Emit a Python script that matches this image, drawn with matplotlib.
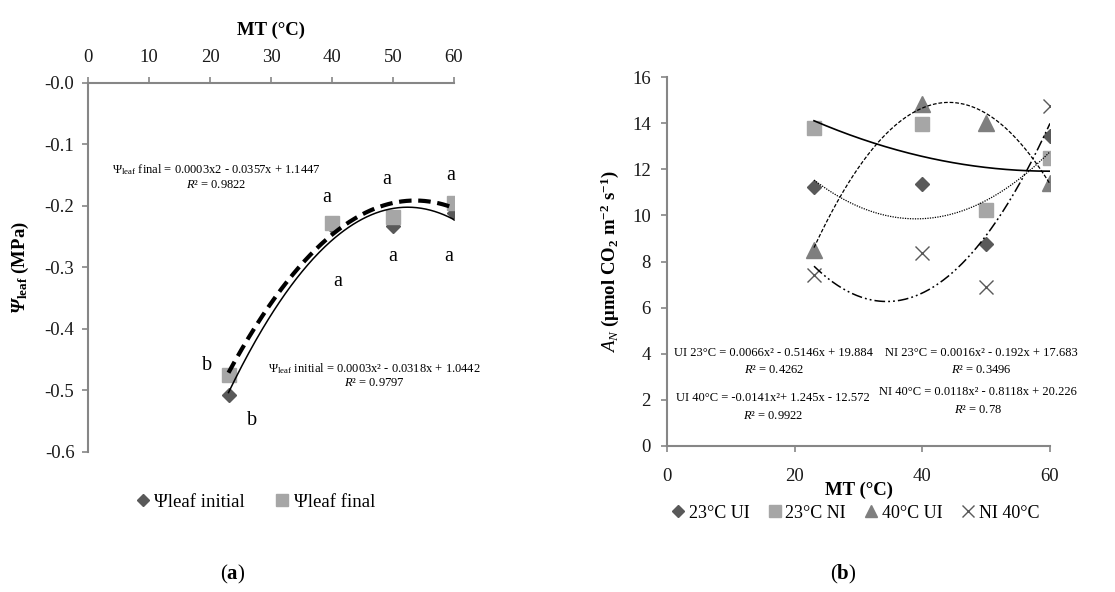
import numpy as np
import matplotlib
matplotlib.use("Agg")
import matplotlib.pyplot as plt
from matplotlib.lines import Line2D

plt.rcParams['font.family'] = ['Liberation Serif', 'DejaVu Serif']
plt.rcParams['mathtext.fontset'] = 'custom'
plt.rcParams['mathtext.rm'] = 'Liberation Serif'
plt.rcParams['mathtext.it'] = 'Liberation Serif:italic'
plt.rcParams['mathtext.bf'] = 'Liberation Serif:bold'
plt.rcParams['mathtext.bfit'] = 'Liberation Serif:italic:bold'

# ---- panel (a) data ----
mt = [23, 40, 50, 60]
psi_initial = [-0.508, -0.233, -0.233, -0.212]
psi_final = [-0.475, -0.228, -0.219, -0.195]
# significance letters (x, y, letter)
letters_final = [(19.4, -0.46, 'b'), (39.1, -0.186, 'a'), (49.0, -0.157, 'a'), (59.4, -0.150, 'a')]
letters_initial = [(26.8, -0.549, 'b'), (40.9, -0.323, 'a'), (50.0, -0.283, 'a'), (59.1, -0.283, 'a')]

# ---- panel (b) data ----
ui_23 = [11.22, 11.35, 8.76, 13.45]
ni_23 = [13.81, 13.96, 10.23, 12.51]
ui_40 = [8.5, 14.84, 14.0, 11.4]
ni_40 = [7.41, 8.35, 6.88, 14.75]
# trendline coefficients as printed on the chart
coef_ui_23 = [0.0066, -0.5146, 19.884]
coef_ni_23 = [0.0016, -0.192, 17.683]
coef_ui_40 = [-0.0141, 1.245, -12.572]
coef_ni_40 = [0.0118, -0.8118, 20.226]

DARK = '#595959'
LIGHT = '#A6A6A6'
MID = '#7F7F7F'
AXC = '#868686'

fig = plt.figure(figsize=(11.15, 5.92), dpi=100)

# ================= panel (a) =================
ax1 = fig.add_axes([0.0792, 0.2365, 0.328, 0.6238])
xs = np.linspace(23, 60, 200)
fit_i = np.polyfit(mt, psi_initial, 2)
fit_f = np.polyfit(mt, psi_final, 2)
ax1.plot(mt, psi_initial, 'D', color=DARK, ms=7, zorder=3)
ax1.plot(mt, psi_final, 's', color=LIGHT, ms=10, zorder=3)
ax1.plot(xs, np.polyval(fit_i, xs), color='black', lw=1.1, zorder=4)
ax1.plot(xs, np.polyval(fit_f, xs), color='black', lw=3, dashes=(3, 1.6), zorder=4)

ax1.set_xlim(0, 60)
ax1.set_ylim(-0.6, 0)
ax1.set_xticks(range(0, 61, 10))
ax1.set_yticks([0, -0.1, -0.2, -0.3, -0.4, -0.5, -0.6])
ax1.set_yticklabels(['-0.0', '-0.1', '-0.2', '-0.3', '-0.4', '-0.5', '-0.6'])
ax1.xaxis.tick_top()
ax1.xaxis.set_label_position('top')
for s in ['right', 'bottom']:
    ax1.spines[s].set_visible(False)
for s in ['top', 'left']:
    ax1.spines[s].set_color(AXC)
    ax1.spines[s].set_linewidth(1.5)
ax1.tick_params(colors=AXC, labelcolor='#1a1a1a', labelsize=13.5, length=4, width=1.2, direction='out')
ax1.tick_params(axis='x', pad=8)
ax1.tick_params(axis='y', pad=6)
ax1.set_xlabel('MT (°C)', fontsize=13.5, fontweight='bold', labelpad=10)
ax1.set_ylabel(r'$\mathbfit{\Psi}_{\mathbf{leaf}}$ (MPa)', fontsize=13.5, fontweight='bold', labelpad=10)

for x, y, t in letters_final + letters_initial:
    ax1.text(x, y, t, fontsize=14.5, ha='center', va='center')

ax1.text(21, -0.152, r'$\mathit{\Psi}_{\rm leaf}$ final = 0.0003x2 - 0.0357x + 1.1447' + '\n' + r'$R$² = 0.9822',
         fontsize=9, ha='center', va='center', multialignment='center')
ax1.text(47, -0.475, r'$\mathit{\Psi}_{\rm leaf}$ initial = 0.0003x² - 0.0318x + 1.0442' + '\n' + r'$R$² = 0.9797',
         fontsize=9, ha='center', va='center', multialignment='center')

h_a = [Line2D([], [], marker='D', color=DARK, ls='none', ms=6),
       Line2D([], [], marker='s', color=LIGHT, ls='none', ms=8)]
fig.legend(h_a, ['Ψleaf initial', 'Ψleaf final'], loc='center', bbox_to_anchor=(0.228, 0.152),
           ncol=2, frameon=False, fontsize=13.5, handletextpad=0.1, columnspacing=1.5, handlelength=1)
fig.text(0.209, 0.029, r'($\mathbf{a}$)', fontsize=15, ha='center', va='center')

# ================= panel (b) =================
ax2 = fig.add_axes([0.5985, 0.2471, 0.3432, 0.6223])
ax2.plot(mt, ui_23, 'D', color=DARK, ms=7, label='23°C UI', zorder=3)
ax2.plot(mt, ni_23, 's', color=LIGHT, ms=10, label='23°C NI', zorder=3)
ax2.plot(mt, ui_40, '^', color=MID, ms=11, label='40°C UI', zorder=3)
ax2.plot(mt, ni_40, 'x', color=DARK, ms=10, mew=1, label='NI 40°C', zorder=3)

ax2.plot(xs, np.polyval(coef_ni_23, xs), color='black', lw=1.2, zorder=4)
ax2.plot(xs, np.polyval(coef_ui_23, xs), color='black', lw=0.9, dashes=(1, 1), zorder=4)
ax2.plot(xs, np.polyval(coef_ui_40, xs), color='black', lw=0.9, dashes=(3, 1.5), zorder=4)
ax2.plot(xs, np.polyval(coef_ni_40, xs), color='black', lw=1.1, dashes=(7, 2, 1.2, 2, 1.2, 2), zorder=4)

ax2.set_xlim(0, 60)
ax2.set_ylim(0, 16)
ax2.set_xticks([0, 20, 40, 60])
ax2.set_yticks(range(0, 17, 2))
for s in ['right', 'top']:
    ax2.spines[s].set_visible(False)
for s in ['bottom', 'left']:
    ax2.spines[s].set_color(AXC)
    ax2.spines[s].set_linewidth(1.5)
ax2.tick_params(colors=AXC, labelcolor='#1a1a1a', labelsize=13.5, length=4, width=1.2, direction='out')
ax2.tick_params(axis='x', pad=12)
ax2.tick_params(axis='y', pad=8)
ax2.set_xlabel('MT (°C)', fontsize=13.5, fontweight='bold', labelpad=-2)
ax2.set_ylabel(r'$A_N$ ($\mathbf{\mu}$mol CO$_\mathbf{2}$ m$^\mathbf{-2}$ s$^\mathbf{-1}$)',
               fontsize=13.5, fontweight='bold', labelpad=8)

eq_kw = dict(fontsize=9, ha='center', va='center')
ax2.text(16.7, 4.03, 'UI 23°C = 0.0066x² - 0.5146x + 19.884', **eq_kw)
ax2.text(16.7, 3.29, r'$R$² = 0.4262', **eq_kw)
ax2.text(49.3, 4.03, 'NI 23°C = 0.0016x² - 0.192x + 17.683', **eq_kw)
ax2.text(49.3, 3.29, r'$R$² = 0.3496', **eq_kw)
ax2.text(16.6, 2.07, 'UI 40°C = -0.0141x²+ 1.245x - 12.572', **eq_kw)
ax2.text(16.6, 1.29, r'$R$² = 0.9922', **eq_kw)
ax2.text(48.7, 2.33, 'NI 40°C = 0.0118x² - 0.8118x + 20.226', **eq_kw)
ax2.text(48.7, 1.55, r'$R$² = 0.78', **eq_kw)

h_b = [Line2D([], [], marker='D', color=DARK, ls='none', ms=6),
       Line2D([], [], marker='s', color=LIGHT, ls='none', ms=8),
       Line2D([], [], marker='^', color=MID, ls='none', ms=8),
       Line2D([], [], marker='x', color=DARK, ls='none', ms=8, mew=1)]
fig.legend(h_b, ['23°C UI', '23°C NI', '40°C UI', 'NI 40°C'], loc='center', bbox_to_anchor=(0.766, 0.133),
           ncol=4, frameon=False, fontsize=13, handletextpad=0.1, columnspacing=0.9, handlelength=1)
fig.text(0.756, 0.029, r'($\mathbf{b}$)', fontsize=15, ha='center', va='center')

fig.savefig('out.png', dpi=100)
